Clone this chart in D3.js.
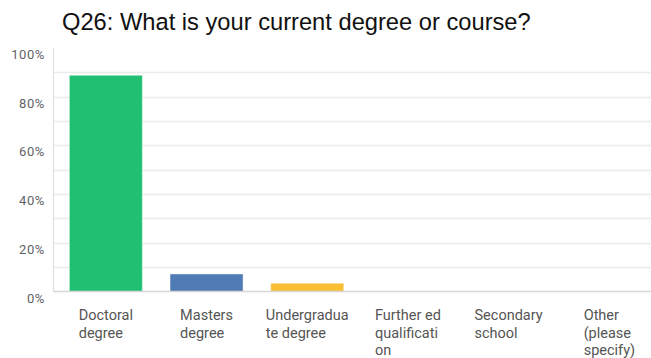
<!DOCTYPE html>
<html>
<head>
<meta charset="utf-8">
<script src="https://cdn.jsdelivr.net/npm/d3@7"></script>
<style>
  html, body { margin: 0; padding: 0; background: #fff; }
  svg { display: block; }
</style>
</head>
<body>
<svg id="chart" width="651" height="358"></svg>
<script>
// Survey responses, percent of respondents per answer
const categories = [
  "Doctoral degree",
  "Masters degree",
  "Undergraduate degree",
  "Further ed qualification",
  "Secondary school",
  "Other (please specify)"
];
const labelLines = [
  ["Doctoral", "degree"],
  ["Masters", "degree"],
  ["Undergradua", "te degree"],
  ["Further ed", "qualificati", "on"],
  ["Secondary", "school"],
  ["Other", "(please", "specify)"]
];
const values = [88.8, 7.2, 3.4, 0, 0, 0];
const barColors = ["#20bf72", "#507bb5", "#f9be32", "#20bf72", "#507bb5", "#f9be32"];
const yTicks = [0, 20, 40, 60, 80, 100];
const gridTicks = [10, 20, 30, 40, 50, 60, 70, 80, 90];
const title = "Q26: What is your current degree or course?";

const svg = d3.select("#chart");
const plot = { left: 53.5, right: 651, top: 48, bottom: 291.5 };

const x = d3.scaleBand()
  .domain(categories)
  .range([55.5, 55.5 + 6 * 100.7])
  .paddingInner(0.275)
  .paddingOuter(0.1375);

const y = d3.scaleLinear().domain([0, 100]).range([plot.bottom, plot.top]);

// Title
svg.append("text")
  .attr("x", 62)
  .attr("y", 29.5)
  .attr("font-family", "'Liberation Sans', Arial, sans-serif")
  .attr("font-size", 23.7)
  .attr("fill", "#111")
  .text(title);

// Horizontal gridlines
svg.append("g").selectAll("line")
  .data(gridTicks)
  .join("line")
  .attr("x1", plot.left)
  .attr("x2", plot.right)
  .attr("y1", d => Math.round(y(d)) + 0.5)
  .attr("y2", d => Math.round(y(d)) + 0.5)
  .attr("stroke", "#ececec")
  .attr("stroke-width", 1.3);

// Y axis line
svg.append("line")
  .attr("x1", plot.left).attr("x2", plot.left)
  .attr("y1", plot.top).attr("y2", plot.bottom)
  .attr("stroke", "#dcdcdc")
  .attr("stroke-width", 1);

// Y tick labels sit just below their value
svg.append("g").selectAll("text")
  .data(yTicks)
  .join("text")
  .attr("x", 45)
  .attr("y", d => y(d) + 6.5)
  .attr("dy", "0.35em")
  .attr("text-anchor", "end")
  .attr("font-family", "Roboto, sans-serif")
  .attr("font-size", 13)
  .attr("letter-spacing", 0.6)
  .attr("fill", "#5f6368")
  .text(d => d + "%");

// Bars
svg.append("g").selectAll("rect")
  .data(categories.map((c, i) => ({ c, v: values[i], color: barColors[i] })).filter(d => d.v > 0))
  .join("rect")
  .attr("x", d => x(d.c))
  .attr("width", x.bandwidth())
  .attr("y", d => y(d.v))
  .attr("height", d => y(0) - y(d.v))
  .attr("fill", d => d.color)
  .attr("stroke", "#ffffff")
  .attr("stroke-opacity", 0.45)
  .attr("stroke-width", 1);

// Baseline
svg.append("line")
  .attr("x1", plot.left).attr("x2", plot.right)
  .attr("y1", plot.bottom).attr("y2", plot.bottom)
  .attr("stroke", "#d6d6d6")
  .attr("stroke-width", 1.5);

// Category labels: wrapped lines, left aligned, block centered on the band
const labelG = svg.append("g")
  .attr("font-family", "Roboto, sans-serif")
  .attr("font-size", 14.5)
  .attr("fill", "#555");

categories.forEach((c, i) => {
  const g = labelG.append("g");
  const t = g.append("text").attr("y", 320);
  labelLines[i].forEach((line, j) => {
    t.append("tspan")
      .attr("x", 0)
      .attr("dy", j === 0 ? 0 : 17.5)
      .text(line);
  });
  const w = t.node().getBBox().width;
  g.attr("transform", `translate(${x(c) + x.bandwidth() / 2 - w / 2},0)`);
});
</script>
</body>
</html>
